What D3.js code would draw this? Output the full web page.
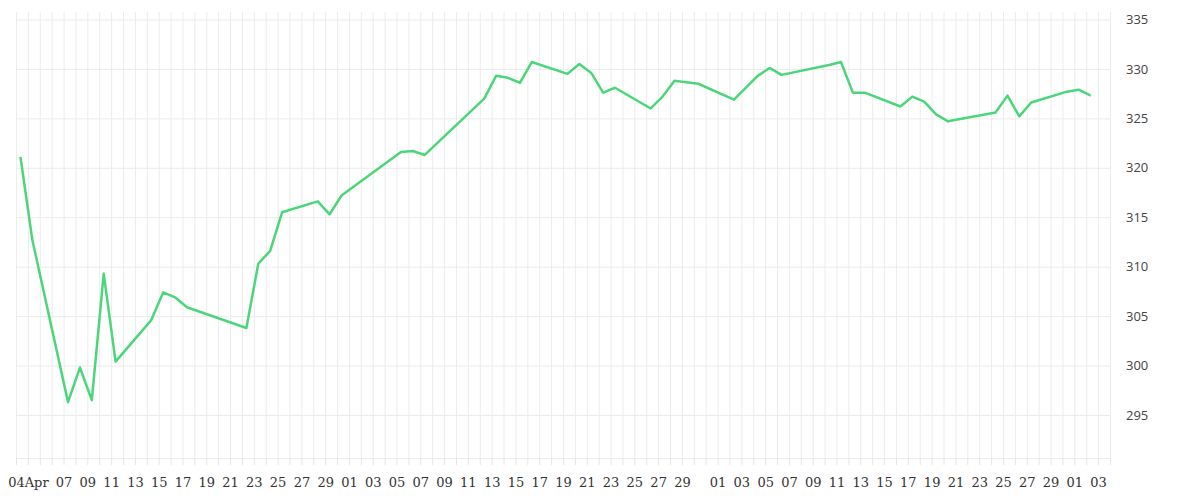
<!DOCTYPE html>
<html>
<head>
<meta charset="utf-8">
<script src="https://cdn.jsdelivr.net/npm/d3@7"></script>
<style>
  body { margin: 0; background: #fff; }
  .grid line { stroke: #ececec; stroke-width: 1; }
  .grid path { display: none; }
  .x.axis text { font-family: "DejaVu Serif", serif; font-size: 13px; fill: #333; }
  .x.axis line { stroke: #e6e6e6; }
  .x.axis path, .y.axis path, .y.axis line { display: none; }
  .y.axis text { font-family: "Open Sans", sans-serif; font-size: 13px; fill: #444; }
</style>
</head>
<body>
<script>
// values (one point a day, around 9am)
const dates = [
  "2023-04-03", "2023-04-04", "2023-04-07", "2023-04-08", "2023-04-09", "2023-04-10", "2023-04-11",
  "2023-04-14", "2023-04-15", "2023-04-16", "2023-04-17", "2023-04-22", "2023-04-23", "2023-04-24",
  "2023-04-25", "2023-04-28", "2023-04-29", "2023-04-30", "2023-05-05", "2023-05-06", "2023-05-07",
  "2023-05-12", "2023-05-13", "2023-05-14", "2023-05-15", "2023-05-16", "2023-05-19", "2023-05-20",
  "2023-05-21", "2023-05-22", "2023-05-23", "2023-05-26", "2023-05-27", "2023-05-28", "2023-05-30",
  "2023-06-02", "2023-06-04", "2023-06-05", "2023-06-06", "2023-06-10", "2023-06-11", "2023-06-12",
  "2023-06-13", "2023-06-16", "2023-06-17", "2023-06-18", "2023-06-19", "2023-06-20", "2023-06-24",
  "2023-06-25", "2023-06-26", "2023-06-27", "2023-06-30", "2023-07-01", "2023-07-02"
];
const values = [
  321.1, 312.7, 296.3, 299.8, 296.5, 309.3, 300.4,
  304.6, 307.4, 306.9, 305.9, 303.8, 310.3, 311.6,
  315.5, 316.6, 315.3, 317.2, 321.6, 321.7, 321.3,
  327.0, 329.3, 329.1, 328.6, 330.7, 329.5, 330.5,
  329.6, 327.6, 328.1, 326.0, 327.2, 328.8, 328.5,
  326.9, 329.3, 330.1, 329.4, 330.4, 330.7, 327.6,
  327.6, 326.2, 327.2, 326.7, 325.4, 324.7, 325.6,
  327.3, 325.2, 326.6, 327.7, 327.9, 327.3
];
const yTicks = [295, 300, 305, 310, 315, 320, 325, 330, 335];

const parseDay = d3.timeParse("%Y-%m-%d");
const points = dates.map((d, i) => ({ date: d3.timeHour.offset(parseDay(d), 9), value: values[i] }));

const width = 1200, height = 500;
const plotLeft = 16, plotRight = 1110, plotTop = 12, plotBottom = 458;

const x = d3.scaleTime()
    .domain([parseDay("2023-04-03"), parseDay("2023-07-04")])
    .range([plotLeft, plotRight]);
const y = d3.scaleLinear()
    .domain([290.65, 335])
    .range([plotBottom, 19.5]);

const days = d3.timeDay.range(parseDay("2023-04-03"), parseDay("2023-07-05"));
// labels: every other day, 04Apr first, no 05 and no 31
const labelDays = days.filter(d => {
    const n = d.getDate();
    if (d.getMonth() === 3 && n < 7) return n === 4;
    return n % 2 === 1 && n !== 31;
});
const fmt = d => (d.getMonth() === 3 && d.getDate() === 4) ? "04Apr" : d3.timeFormat("%d")(d);

const svg = d3.select("body").append("svg")
    .attr("width", width)
    .attr("height", height);

// grid
svg.append("g")
    .attr("class", "grid")
    .attr("transform", "translate(0," + plotBottom + ")")
    .call(d3.axisBottom(x).tickValues(days).tickSize(-(plotBottom - plotTop)).tickFormat(""));
svg.append("g")
    .attr("class", "grid")
    .attr("transform", "translate(" + plotLeft + ",0)")
    .call(d3.axisRight(y).tickValues(yTicks.concat([290.65])).tickSize(plotRight - plotLeft).tickFormat(""));

// x axis: small tick every day, labels every other day
svg.append("g")
    .attr("class", "x axis")
    .attr("transform", "translate(0," + plotBottom + ")")
    .call(d3.axisBottom(x).tickValues(days).tickSize(7).tickFormat(""));
svg.append("g")
    .attr("class", "x axis")
    .attr("transform", "translate(0," + plotBottom + ")")
    .call(d3.axisBottom(x).tickValues(labelDays).tickSize(0).tickPadding(20).tickFormat(fmt));

svg.append("g")
    .attr("class", "y axis")
    .attr("transform", "translate(" + (plotRight + 16) + ",0)")
    .call(d3.axisRight(y).tickValues(yTicks).tickSize(0).tickPadding(0));

const line = d3.line()
    .x(d => x(d.date))
    .y(d => y(d.value));

svg.append("path")
    .datum(points)
    .attr("fill", "none")
    .attr("stroke", "#4cd67a")
    .attr("stroke-width", 2.5)
    .attr("stroke-linejoin", "round")
    .attr("d", line);
</script>
</body>
</html>
